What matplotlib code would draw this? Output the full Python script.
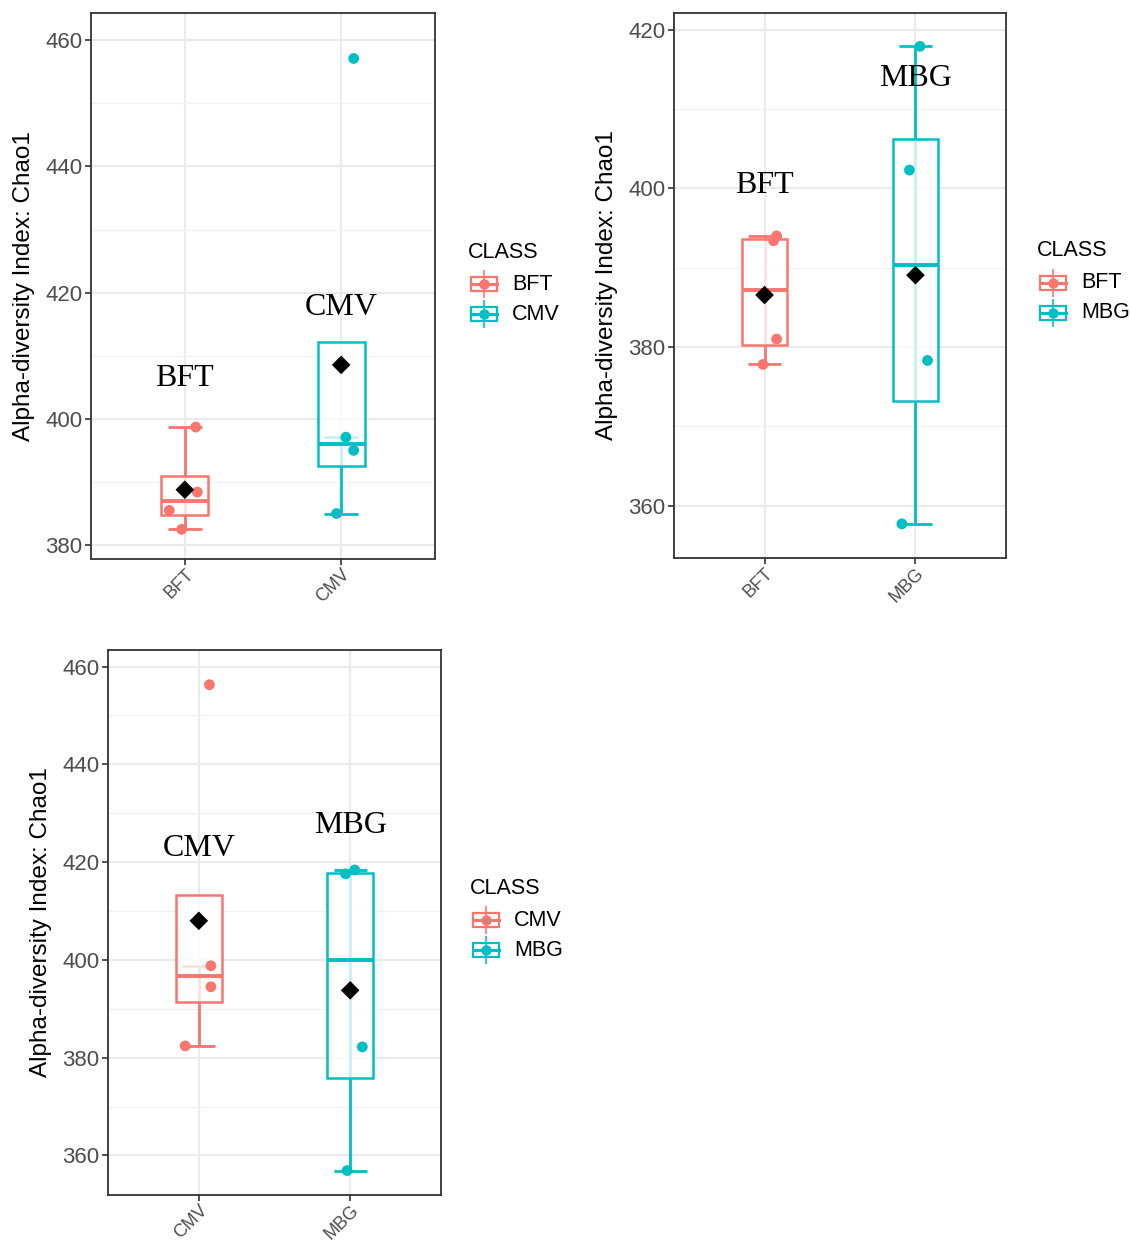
import numpy as np
import matplotlib
matplotlib.use('Agg')
import matplotlib.pyplot as plt
from matplotlib.patches import Rectangle
from matplotlib.lines import Line2D

W, H = 1130, 1242
RED = '#F8766D'
CYAN = '#00BFC4'
SANS = ['Liberation Sans', 'DejaVu Sans']
SERIF = ['Liberation Serif', 'DejaVu Serif']

# ---------------- data ----------------
# Panel 1: BFT vs CMV
p1_groups = ['BFT', 'CMV']
p1_bft = [398.7, 388.4, 385.5, 382.5]
p1_cmv = [457.1, 397.1, 395.0, 385.0]
p1_bft_jit = [0.07, 0.08, -0.10, -0.02]
p1_cmv_jit = [0.08, 0.03, 0.08, -0.03]
p1_yticks = [380, 400, 420, 440, 460]
p1_ylim = (377.8, 464.3)
p1_ann_y = [406.4, 417.7]

# Panel 2: BFT vs MBG
p2_groups = ['BFT', 'MBG']
p2_bft = [394.0, 393.4, 381.0, 377.8]
p2_mbg = [417.9, 402.3, 378.3, 357.7]
p2_bft_jit = [0.08, 0.06, 0.08, -0.01]
p2_mbg_jit = [0.03, -0.04, 0.08, -0.09]
p2_yticks = [360, 380, 400, 420]
p2_ylim = (353.4, 422.1)
p2_ann_y = [400.3, 413.8]

# Panel 3: CMV vs MBG
p3_groups = ['CMV', 'MBG']
p3_cmv = [456.3, 398.8, 394.5, 382.4]
p3_mbg = [418.4, 417.6, 382.2, 356.9]
p3_cmv_jit = [0.07, 0.08, 0.08, -0.09]
p3_mbg_jit = [0.03, -0.03, 0.08, -0.02]
p3_yticks = [360, 380, 400, 420, 440, 460]
p3_ylim = (351.9, 463.4)
p3_ann_y = [422.7, 427.4]

fig = plt.figure(figsize=(W / 100, H / 100), dpi=100)
fig.patch.set_facecolor('white')


def fx(x):
    return x / W


def fy(y):
    return 1 - y / H


def panel(px_rect, groups, values, jitters, ylim, yticks, ann_y, legend_px):
    l, t, r, b = px_rect
    ax = fig.add_axes([fx(l), fy(b), (r - l) / W, (b - t) / H])
    step = yticks[1] - yticks[0]
    minor = [yticks[0] - step / 2] + [v + step / 2 for v in yticks]
    minor = [m for m in minor if ylim[0] < m < ylim[1]]
    ax.set_yticks(yticks)
    ax.set_yticks(minor, minor=True)
    ax.set_xticks([1, 2])
    ax.set_xlim(0.4, 2.6)
    ax.set_ylim(*ylim)
    ax.set_xticklabels(groups, rotation=45, ha='right', va='top',
                       rotation_mode='anchor', family=SANS, fontsize=13,
                       color='#4D4D4D')
    ax.set_yticklabels([str(v) for v in yticks], family=SANS, fontsize=16,
                       color='#4D4D4D')
    ax.tick_params(axis='both', which='major', direction='out', length=4,
                   width=1.2, color='#333333', pad=2)
    ax.tick_params(axis='x', which='major', pad=1)
    ax.tick_params(axis='both', which='minor', length=0)
    ax.grid(True, which='major', color='#EBEBEB', lw=1.6, zorder=0)
    ax.grid(True, which='minor', axis='y', color='#F2F2F2', lw=0.9, zorder=0)
    ax.set_axisbelow(True)
    for s in ax.spines.values():
        s.set_color('#333333')
        s.set_linewidth(1.3)

    colors = [RED, CYAN]
    for i, (g, v, j, c) in enumerate(zip(groups, values, jitters, colors)):
        x = i + 1
        v = np.array(v)
        q1, med, q3 = np.percentile(v, [25, 50, 75])
        iqr = q3 - q1
        lo = v[v >= q1 - 1.5 * iqr].min()
        hi = v[v <= q3 + 1.5 * iqr].max()
        ax.plot([x, x], [lo, hi], color=c, lw=2.0, zorder=2,
                solid_capstyle='butt')
        for yy in (lo, hi):
            ax.plot([x - 0.11, x + 0.11], [yy, yy], color=c, lw=2.0,
                    zorder=2, solid_capstyle='butt')
        ax.add_patch(Rectangle((x - 0.15, q1), 0.3, q3 - q1,
                               facecolor='white', alpha=0.78,
                               edgecolor='none', zorder=3))
        ax.add_patch(Rectangle((x - 0.15, q1), 0.3, q3 - q1, fill=False,
                               edgecolor=c, lw=1.8, zorder=4))
        ax.plot([x - 0.15, x + 0.15], [med, med], color=c, lw=2.8, zorder=4,
                solid_capstyle='butt')
        ax.scatter(x + np.array(j), v, s=60, color=c, edgecolors='none',
                   zorder=5)
        ax.scatter([x], [v.mean()], marker='D', s=90, color='black',
                   edgecolors='none', zorder=6)
        ax.text(x, ann_y[i], g, family=SERIF, fontsize=23, ha='center',
                va='center', color='black', zorder=7)

    ax.text(-67 / (r - l), 0.5, 'Alpha-diversity Index: Chao1',
            rotation=90, transform=ax.transAxes, ha='center', va='center',
            family=SANS, fontsize=17.5, color='black')

    # legend
    lx, ly = legend_px
    fig.text(fx(lx), fy(ly), 'CLASS', family=SANS, fontsize=15.5,
             ha='left', va='center', color='black')
    for k, (g, c) in enumerate(zip(groups, colors)):
        cx = lx + 16
        cy = ly + 32 + 30 * k
        fig.add_artist(Line2D([fx(cx), fx(cx)], [fy(cy - 13), fy(cy + 13)],
                              color=c, lw=1.5, transform=fig.transFigure,
                              alpha=0.8))
        fig.add_artist(Rectangle((fx(cx - 13), fy(cy + 7)), 26 / W, 14 / H,
                                 facecolor='white', edgecolor=c, lw=1.6,
                                 transform=fig.transFigure))
        fig.add_artist(Line2D([fx(cx - 13), fx(cx + 13)], [fy(cy), fy(cy)],
                              color=c, lw=2.2, transform=fig.transFigure))
        fig.add_artist(Line2D([fx(cx)], [fy(cy)], marker='o', ms=7.5,
                              color=c, mec='none', transform=fig.transFigure))
        fig.text(fx(lx + 44), fy(cy), g, family=SANS, fontsize=15.5,
                 ha='left', va='center', color='black')
    return ax


panel((91, 13, 435, 559), p1_groups, [p1_bft, p1_cmv],
      [p1_bft_jit, p1_cmv_jit], p1_ylim, p1_yticks, p1_ann_y, (468, 252))
panel((674, 13, 1006, 558), p2_groups, [p2_bft, p2_mbg],
      [p2_bft_jit, p2_mbg_jit], p2_ylim, p2_yticks, p2_ann_y, (1037, 251))
panel((108, 650, 441, 1195), p3_groups, [p3_cmv, p3_mbg],
      [p3_cmv_jit, p3_mbg_jit], p3_ylim, p3_yticks, p3_ann_y, (470, 888))

fig.savefig('out.png', dpi=100)
